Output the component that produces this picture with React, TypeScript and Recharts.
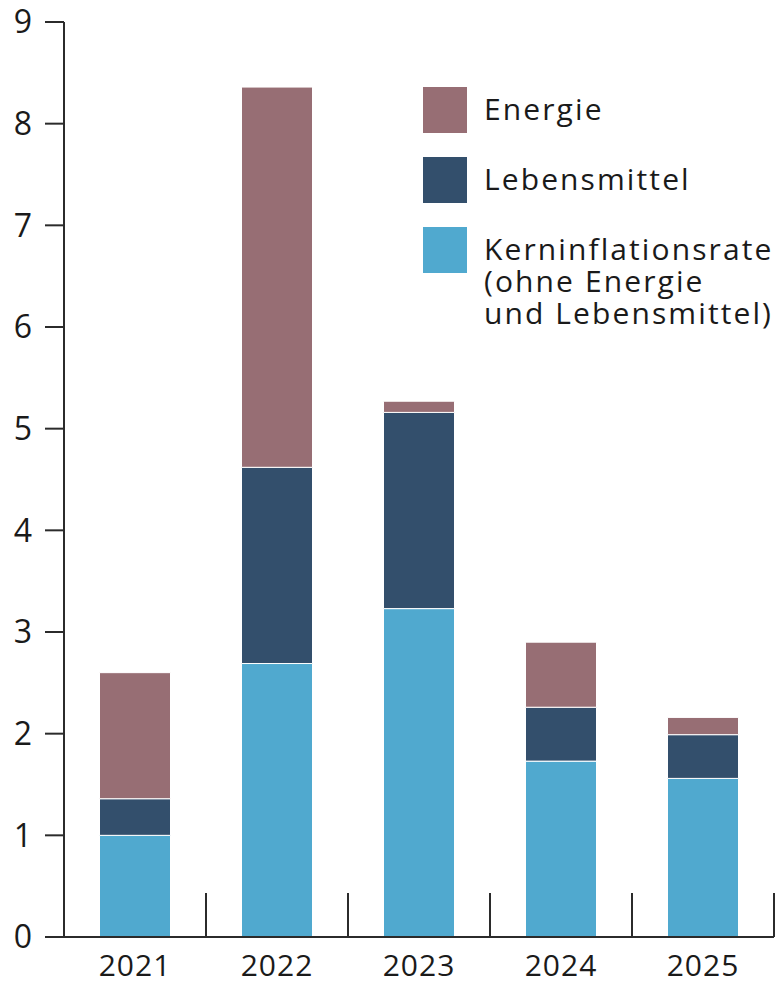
import React from 'react';
import { BarChart, Bar, XAxis, YAxis } from 'recharts';

const years = ['2021', '2022', '2023', '2024', '2025'];
const kern = [1.0, 2.69, 3.23, 1.73, 1.56];
const lebensmittel = [0.36, 1.93, 1.93, 0.53, 0.43];
const energie = [1.24, 3.74, 0.11, 0.64, 0.17];
const yTicks = [0, 1, 2, 3, 4, 5, 6, 7, 8, 9];

const COLORS = { energie: '#976e74', leb: '#334f6c', kern: '#50a9cf' };
const FONT = '"Open Sans", sans-serif';
const INK = '#1a1a1a';
const AXIS = '#2b2b2b';

const data = years.map((y, i) => ({
  year: y,
  kern: kern[i],
  lebensmittel: lebensmittel[i],
  energie: energie[i],
}));

const legendItems = [
  { color: COLORS.energie, lines: ['Energie'] },
  { color: COLORS.leb, lines: ['Lebensmittel'] },
  { color: COLORS.kern, lines: ['Kerninflationsrate', '(ohne Energie', 'und Lebensmittel)'] },
];

const LegendBox = () => (
  <div
    style={{
      position: 'absolute',
      left: 423,
      top: 87,
      width: 356,
      fontFamily: FONT,
      color: INK,
    }}
  >
    {legendItems.map((it, i) => (
      <div key={i} style={{ display: 'flex', alignItems: 'flex-start', marginBottom: i < 2 ? 24 : 0 }}>
        <div style={{ width: 44, height: 46, background: it.color, flex: 'none' }} />
        <div
          style={{
            marginLeft: 17,
            fontSize: 30,
            lineHeight: '32px',
            marginTop: 6,
            letterSpacing: '2.1px',
            whiteSpace: 'nowrap',
          }}
        >
          {it.lines.map((l, j) => (
            <React.Fragment key={j}>
              {j > 0 ? <br /> : null}
              {l}
            </React.Fragment>
          ))}
        </div>
      </div>
    ))}
  </div>
);

const XTick = (props: any) => {
  const { x, y, payload } = props;
  const half = payload && typeof payload.offset === 'number' ? payload.offset : 0;
  return (
    <g>
      <text
        x={x}
        y={y + 39}
        textAnchor="middle"
        fontFamily={FONT}
        fontSize={30}
        letterSpacing={1}
        fill={INK}
      >
        {payload.value}
      </text>
      {half ? (
        <line x1={x + half} x2={x + half} y1={y} y2={y - 44} stroke={AXIS} strokeWidth={2} />
      ) : null}
    </g>
  );
};

export default function App() {
  return (
    <div style={{ position: 'absolute', left: 0, top: 0, width: 779, height: 984, background: '#fff' }}>
      <BarChart
        width={779}
        height={984}
        data={data}
        margin={{ top: 22, right: 5, left: 0, bottom: 0 }}
        barCategoryGap="25%"
      >
        <XAxis
          dataKey="year"
          height={47}
          tickLine={false}
          tickSize={0}
          tickMargin={0}
          axisLine={{ stroke: AXIS, strokeWidth: 2 }}
          tick={<XTick />}
          interval={0}
        />
        <YAxis
          width={64}
          domain={[0, 9]}
          ticks={yTicks}
          interval={0}
          tickSize={19}
          tickMargin={13}
          axisLine={{ stroke: AXIS, strokeWidth: 2 }}
          tickLine={{ stroke: AXIS, strokeWidth: 2 }}
          tick={{ fontFamily: FONT, fontSize: 32, fill: INK }}
        />
        <Bar dataKey="kern" stackId="a" fill={COLORS.kern} stroke="#fff" strokeWidth={1} isAnimationActive={false} />
        <Bar dataKey="lebensmittel" stackId="a" fill={COLORS.leb} stroke="#fff" strokeWidth={1} isAnimationActive={false} />
        <Bar dataKey="energie" stackId="a" fill={COLORS.energie} stroke="#fff" strokeWidth={1} isAnimationActive={false} />
      </BarChart>
      <LegendBox />
    </div>
  );
}
